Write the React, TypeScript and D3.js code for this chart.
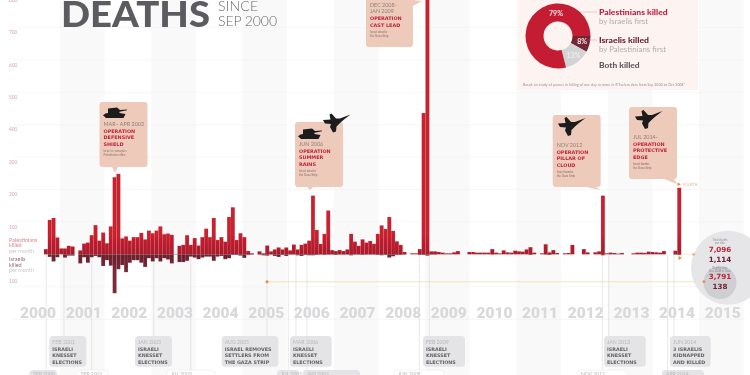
import React from "react";
import * as D3 from "d3";

const firstMonth = 8; // Sep 2000, months counted from Jan 2000
const palestinians = [
  16,106,112,52, 18,18,26,24,0,12,33,36,59,90,42,67, 34,86,238,248,49,55,42,53,53,66,46,73,
  65,73,86,62,64,60,1,26,29,59,29,50, 27,53,79,53,112,44,53,39,115,145,44,65,
  53,10,3,0,9,3,27,9,15,21,15,21, 12,30,15,29,33,42,181,75,32,63,135,13,
  10,13,10,15,63,39,26,46,36,41,32,63, 89,78,115,72,40,29,7,0,3,3,16,436,
  850,9,9,7,5,3,3,6,10,0,0,7, 7,5,5,5,5,16,5,3,12,6,5,11,
  9,8,15,22,5,0,3,31,6,13,4,0, 3,4,29,0,0,16,6,0,6,9,181,3,
  5,4,2,4,0,0,3,5,5,4,8,7, 6,5,10,0,0,11,205,
];
const israelis = [
  0,8,22,9, 0,10,4,4,0,28,9,26,9,5,9,36, 18,35,120,46,33,55,26,18,18,26,39,12,
  22,12,22,12,16,28,0,24,24,20,7,10, 15,10,7,7,20,7,5,15,12,2,2,4,
  11,2,1,0,1,3,4,1,5,8,2,5, 1,1,3,5,2,3,3,2,1,2,1,1,
  2,1,1,1,3,1,1,2,1,1,1,2, 3,2,10,6,2,2,1,0,0,0,2,2,
  4,1,1,0,0,0,0,0,0,0,0,0, 0,0,0,0,0,1,0,0,0,0,0,0,
  0,0,0,2,0,0,0,1,2,0,0,0, 0,0,0,0,0,0,0,0,0,0,3,0,
  0,0,0,0,0,0,0,0,0,0,0,0, 0,0,0,0,0,1,2,
];
const years = ["2000","2001","2002","2003","2004","2005","2006","2007","2008","2009","2010","2011","2012","2013","2014","2015"];
const yTicksUp = [100,200,300,400,500,600,700,800];
const yTicksDown = [100];
const donutValues = [8,13,79];
const donutColors = ["#742636","#d3d3d5","#c41f33"];
const donutLabels = ["8%","13%","79%"];

const operations = [
  { date:["MAR– APR 2002"], title:["OPERATION","DEFENSIVE","SHIELD"], note:["Israel re-occupies","Palestinian cities"], box:[99.5,102,48,65], tail:[112,167,118,167,115,173], baseY:126, icons:[["tank",103,107]] },
  { date:["JUN 2006"], title:["OPERATION","SUMMER","RAINS"], note:["Israel attacks","the Gaza Strip"], box:[295,122,48,65], tail:[307,187,313,187,310,190], baseY:145.7, icons:[["tank",298,128],["jet",322,113.5]] },
  { date:["DEC 2008-","JAN 2009"], title:["OPERATION","CAST LEAD"], note:["Israel attacks","the Gaza Strip"], box:[366,-12,47,59], tail:[413,0,422,1,413,6], baseY:7, icons:[] },
  { date:["NOV 2012"], title:["OPERATION","PILLAR OF","CLOUD"], note:["Israel bombs","the Gaza Strip"], box:[552.7,115,48,72], tail:[586,187,596,187,600,190], baseY:146.7, icons:[["jet",557,117]] },
  { date:["JUL 2014-"], title:["OPERATION","PROTECTIVE","EDGE"], note:["Israel bombs","the Gaza Strip"], box:[629,107,48,72], tail:[664,179,674,179,677,184], baseY:139, icons:[["jet",634,110]] },
];
const topEvents = [
  { x:64, box:[49.3,37], lines:["FEB 2001","ISRAELI","KNESSET","ELECTIONS"] },
  { x:153.7, box:[135,37], lines:["JAN 2003","ISRAELI","KNESSET","ELECTIONS"] },
  { x:267, box:[221.7,56.6], lines:["AUG 2005","ISRAEL REMOVES","SETTLERS FROM","THE GAZA STRIP"] },
  { x:296, box:[290,41.7], lines:["MAR 2006","ISRAELI","KNESSET","ELECTIONS"] },
  { x:429.3, box:[423,42], lines:["FEB 2009","ISRAELI","KNESSET","ELECTIONS"] },
  { x:608.7, box:[604,41.7], lines:["JAN 2013","ISRAELI","KNESSET","ELECTIONS"] },
  { x:674, box:[670,40.7], lines:["JUN 2014","3 ISRAELIS","KIDNAPPED","AND KILLED"] },
];
const bottomEvents = [
  { x:46.3, box:[29.3,27.7], grey:true, label:"SEP 2000" },
  { x:91.7, box:[77,31], grey:false, label:"SEP 2001" },
  { x:190.7, box:[166.7,48.3], grey:false, label:"JUL 2003" },
  { x:288.3, box:[277,22], grey:true, label:"JUL 2005" },
  { x:307, box:[302.7,57.3], grey:true, label:"JAN 2006" },
  { x:419.3, box:[394,50], grey:false, label:"JUN 2008" },
  { x:602.3, box:[577,49.7], grey:false, label:"NOV 2012" },
  { x:667.7, box:[662,42], grey:true, label:"APR 2014" },
];

const monthWidth = 3.815;
const x = D3.scaleLinear().domain([0, 100]).range([13.5, 13.5 + 100 * monthWidth]);
const y = D3.scaleLinear().domain([0, 100]).range([254.3, 221.9]);
const yearCenter = D3.scaleLinear().domain([0, 15]).range([38, 722.7]);
const bandStart = D3.scaleLinear().domain([0, 1]).range([60, 105.65]);

const TANK = "M5 1.5 L14 0.5 L17 3 L24 2.4 L24 3.3 L16.5 4.8 L16.5 6 L22.5 7 L20.5 11 L3 11 L0 8.2 L2.5 6.4 L5 6 Z";
const JET = "M28.5 1 L18 5 L14 5 L9.5 0 L7.5 1 L8.5 6 L1 6.5 L3 10 L9 10.5 L8 13.5 L11 19 L14 18 L14.5 13 L18 9.5 L22 6 Z";
const BOLD = "'DejaVu Sans', sans-serif";
const LIGHT = "Lato, 'Open Sans', sans-serif";

function Bars() {
  return (
    <g>
      {palestinians.map((v, i) => v > 0 && (
        <rect key={"p" + i} x={x(firstMonth + i)} width={monthWidth} y={y(v)} height={y(0) - y(v)}
          fill="url(#upGrad)" stroke="#e88a8f" strokeOpacity={0.35} strokeWidth={0.35} />
      ))}
      {israelis.map((v, i) => v > 0 && (
        <rect key={"i" + i} x={x(firstMonth + i)} width={monthWidth} y={y(0)} height={y(0) - y(v)}
          fill="url(#downGrad)" stroke="#c9a0a8" strokeOpacity={0.25} strokeWidth={0.3} />
      ))}
    </g>
  );
}

function Donut() {
  const arcs = D3.pie<number>().sort(null).startAngle(Math.PI / 2).endAngle(Math.PI * 2.5)(donutValues);
  const arc = D3.arc<any>().innerRadius(14.5).outerRadius(32.5);
  const labelArc = D3.arc<any>().innerRadius(25).outerRadius(25);
  return (
    <g>
      <rect x={518} y={0} width={180} height={90} fill="#fdf3f1" />
      <g transform="translate(558,36)">
        {arcs.map((a, i) => <path key={i} d={arc(a) as string} fill={donutColors[i]} />)}
      </g>
      {arcs.map((a, i) => {
        const [lx, ly] = labelArc.centroid(a);
        const pos = i === 2 ? [556, 16] : [558 + lx, 36 + ly + 2];
        return <text key={i} x={pos[0]} y={pos[1]} textAnchor="middle" fontFamily={LIGHT} fontWeight={700}
          fontSize={7} fill={i === 1 ? "#eeeeee" : "#f6e6e6"}>{donutLabels[i]}</text>;
      })}
      <path d="M580 12H597M588 40H597" stroke="#c88" strokeWidth={0.4} fill="none" />
      <text x={599} y={15} fontFamily={LIGHT} fontWeight={900} fontSize={8.2} fill="#c41f3c" textLength={68.7} lengthAdjust="spacingAndGlyphs">Palestinians killed</text>
      <text x={599} y={24} fontFamily={LIGHT} fontSize={7.8} fill="#b9a9ab" textLength={49}>by Israelis first</text>
      <text x={599} y={43} fontFamily={LIGHT} fontWeight={900} fontSize={8.2} fill="#6d2233" textLength={50} lengthAdjust="spacingAndGlyphs">Israelis killed</text>
      <text x={599} y={52} fontFamily={LIGHT} fontSize={7.8} fill="#b9a9ab" textLength={67}>by Palestinians first</text>
      <text x={599} y={68} fontFamily={LIGHT} fontWeight={900} fontSize={8.2} fill="#5c5c60" textLength={40.7} lengthAdjust="spacingAndGlyphs">Both killed</text>
      <text x={523} y={86} fontFamily={LIGHT} fontSize={3.2} fill="#8a8587" textLength={162}>Based on study of pauses in killing of one day or more in B'Tselem data from Sep 2000 to Oct 2008*</text>
    </g>
  );
}

function Operation({ op }: { op: any }) {
  const [bx, by, bw, bh] = op.box;
  const left = bx + 4;
  let yy = op.baseY;
  return (
    <g>
      <path d={`M${op.tail[0]} ${op.tail[1]}L${op.tail[2]} ${op.tail[3]}L${op.tail[4]} ${op.tail[5]}Z`} fill="#eecabb" />
      <rect x={bx} y={by} width={bw} height={bh} rx={3} fill="#eecabb" />
      {op.icons.map((ic: any, i: number) => (
        <path key={i} d={ic[0] === "tank" ? TANK : JET} transform={`translate(${ic[1]},${ic[2]})`} fill="#1d1a1a" />
      ))}
      {op.date.map((t: string, i: number) => {
        const el = <text key={"d" + i} x={left} y={yy} fontFamily={LIGHT} fontSize={5.4} fill="#8f7f78">{t}</text>;
        if (i < op.date.length - 1) yy += 6.4;
        return el;
      })}
      {op.title.map((t: string, i: number) => {
        yy += i === 0 ? 7 : 6.4;
        return <text key={"t" + i} x={left} y={yy} fontFamily={BOLD} fontWeight={700} fontSize={4.9} fill="#c0233a">{t}</text>;
      })}
      {op.note.map((t: string, i: number) => {
        yy += i === 0 ? 6 : 4;
        return <text key={"n" + i} x={left} y={yy} fontFamily={LIGHT} fontSize={3} fill="#8a7068">{t}</text>;
      })}
    </g>
  );
}

function Events() {
  return (
    <g>
      {topEvents.map((e, i) => (
        <g key={i}>
          <line x1={e.x} x2={e.x} y1={y(0)} y2={336} stroke="#d8d8d8" strokeWidth={0.6} />
          <rect x={e.box[0]} y={336} width={e.box[1]} height={30.7} rx={3.5} fill="#e4e4e6" />
          {e.lines.map((t, j) => (
            <text key={j} x={e.box[0] + 3} y={344 + j * 6.5 + (j > 0 ? 0.2 : 0)}
              fontFamily={j === 0 ? LIGHT : BOLD} fontWeight={j === 0 ? 400 : 700} fontSize={j === 0 ? 5.2 : 4.8}
              fill={j === 0 ? "#b8b8ba" : "#636367"}>{t}</text>
          ))}
        </g>
      ))}
      {bottomEvents.map((e, i) => (
        <g key={i}>
          <line x1={e.x} x2={e.x} y1={y(0)} y2={370} stroke="#d8d8d8" strokeWidth={0.6} />
          <rect x={e.box[0]} y={370} width={e.box[1]} height={12} rx={3.5} fill={e.grey ? "#e4e4e6" : "#ffffff"} stroke={e.grey ? "none" : "#e4e4e4"} strokeWidth={0.5} />
          <text x={e.box[0] + 4} y={375.5} fontFamily={LIGHT} fontSize={5} fill="#b8b8ba">{e.label}</text>
        </g>
      ))}
    </g>
  );
}

function Totals() {
  const tiny = { fontFamily: LIGHT, fontSize: 2.8, textAnchor: "middle" as const, fill: "#8d8d90" };
  const num = { fontFamily: BOLD, fontWeight: 700, fontSize: 7.2, textAnchor: "middle" as const };
  return (
    <g>
      <line x1={267} x2={704} y1={281.7} y2={281.7} stroke="#f8d3a8" strokeWidth={0.7} />
      <line x1={682} x2={694} y1={254.3} y2={254.3} stroke="#f8d3a8" strokeWidth={0.5} />
      <circle cx={728} cy={267.7} r={37} fill="#e6e6e8" />
      <circle cx={720} cy={282.5} r={16.5} fill="#cfcfd1" />
      <circle cx={267} cy={281.7} r={1.5} fill="#f08a3c" />
      <circle cx={693.7} cy={254.3} r={1.4} fill="#f3b27c" />
      <circle cx={704} cy={281.7} r={1.4} fill="#f08a3c" />
      <path d="M678.5 256L682 258L678.5 260Z" fill="#f08a3c" />
      <path d="M677.5 182.5L681 184.2L677.5 186Z" fill="#f08a3c" />
      <text x={683} y={185.5} fontFamily={LIGHT} fontSize={3.6} fill="#e8b48c">FOURTH</text>
      <text x={720} y={241} {...tiny}>Total deaths</text>
      <text x={720} y={244} {...tiny}>per side</text>
      <text x={720} y={269} {...tiny}>Deaths since</text>
      <text x={720} y={272} {...tiny}>Dec 2008 in Gaza</text>
      <text x={720} y={252} {...num} fill="#c0233a">7,096</text>
      <text x={720} y={262} {...num} fill="#6d2233">1,114</text>
      <text x={720} y={279.3} {...num} fill="#c0233a">3,791</text>
      <text x={720} y={289.3} {...num} fill="#6d2233">138</text>
    </g>
  );
}

export default function App() {
  return (
    <svg width={750} height={375} viewBox="0 0 750 375"
      style={{ position: "absolute", left: 0, top: 0, background: "#fff", display: "block" }}>
      <defs>
        <linearGradient id="upGrad" gradientUnits="userSpaceOnUse" x1="0" x2="0" y1={y(60)} y2={y(0)}>
          <stop offset="0" stopColor="#c8202f" />
          <stop offset="1" stopColor="#a81c2c" />
        </linearGradient>
        <linearGradient id="downGrad" gradientUnits="userSpaceOnUse" x1="0" x2="0" y1={y(0)} y2={y(-60)}>
          <stop offset="0" stopColor="#6a1f2e" />
          <stop offset="1" stopColor="#7c2a3a" />
        </linearGradient>
        <filter id="soft" x="0" y="0" width="100%" height="100%">
          <feGaussianBlur stdDeviation="0.3" />
        </filter>
      </defs>
      <g filter="url(#soft)">
        {D3.range(0, 8).map((k) => (
          <rect key={k} x={bandStart(k * 2)} y={0} width={44.5} height={375} fill="#f9f9f9" />
        ))}
        {yTicksUp.map((t) => (
          <g key={t}>
            <line x1={14} x2={745} y1={y(t)} y2={y(t)} stroke="#f1f1f1" strokeWidth={0.6} />
            <text x={9} y={y(t) + 6.6} fontFamily={LIGHT} fontSize={4.8} fill="#cfa6ae">{t}</text>
          </g>
        ))}
        {yTicksDown.map((t) => (
          <g key={t}>
            <line x1={14} x2={745} y1={y(-t)} y2={y(-t)} stroke="#f1f1f1" strokeWidth={0.6} />
            <text x={9} y={y(-t) - 3.3} fontFamily={LIGHT} fontSize={4.8} fill="#cfa6ae">{t}</text>
          </g>
        ))}
        <line x1={14} x2={745} y1={319.3} y2={319.3} stroke="#eeeeee" strokeWidth={0.6} />

        <Events />
        <Bars />

        {years.map((t, i) => (
          <text key={t} x={yearCenter(i)} y={318} textAnchor="middle" textLength={36} lengthAdjust="spacingAndGlyphs"
            fontFamily="Roboto, sans-serif" fontWeight={900} fontSize={15} fill="#d9d9db">{t}</text>
        ))}

        <text x={61} y={26.5} textLength={149} lengthAdjust="spacingAndGlyphs" fontFamily="Lato, sans-serif"
          fontWeight={900} fontSize={36} fill="#5b5b60">DEATHS</text>
        <text x={218} y={10.5} fontFamily={LIGHT} fontWeight={300} fontSize={14} fill="#6a6a6e" textLength={40}>SINCE</text>
        <text x={218} y={25.5} fontFamily={LIGHT} fontWeight={300} fontSize={14} fill="#6a6a6e" textLength={59}>SEP 2000</text>

        <g fontFamily={LIGHT} fontSize={5.5}>
          <text x={9} y={241.8} fill="#d88a96">Palestinians</text>
          <text x={9} y={246.8} fill="#d88a96">killed</text>
          <text x={9} y={252.5} fill="#c9c9cb">per month</text>
          <text x={9} y={260.8} fill="#9a6a76">Israelis</text>
          <text x={9} y={266.5} fill="#9a6a76">killed</text>
          <text x={9} y={272} fill="#c9c9cb">per month</text>
        </g>

        {operations.map((op, i) => <Operation key={i} op={op} />)}
        <Donut />
        <Totals />
      </g>
    </svg>
  );
}
